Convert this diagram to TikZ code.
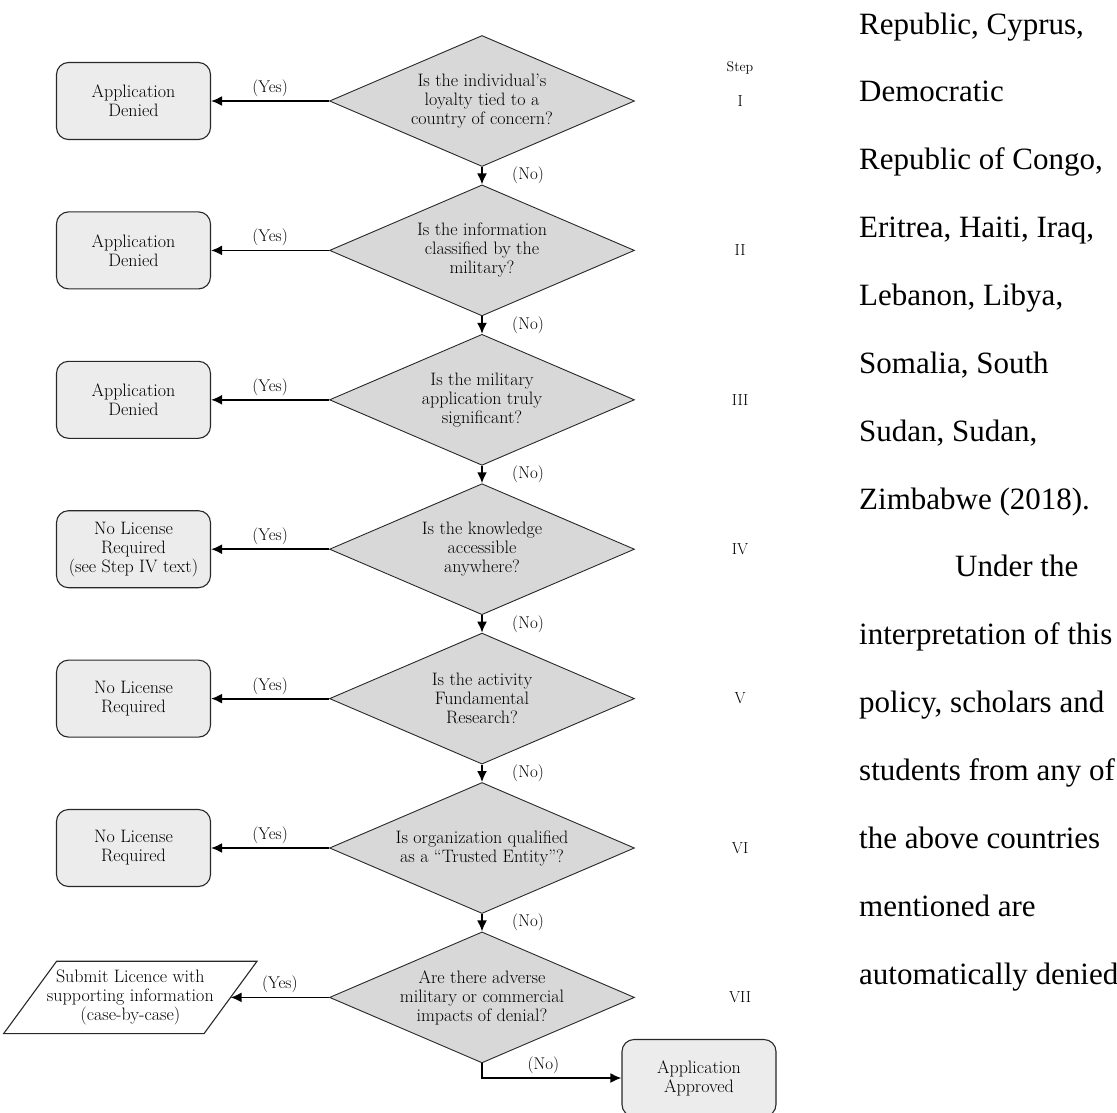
\documentclass[tikz,border=0pt]{standalone}
\usepackage{fontspec}
\usepackage{tikz}
\usetikzlibrary{arrows.meta,positioning,shapes.geometric}
\newfontfamily\bodyfont{Liberation Serif}
\definecolor{dgray}{RGB}{40,40,40}
\definecolor{lightbox}{RGB}{236,236,236}
\definecolor{lightdia}{RGB}{216,216,216}

\begin{document}
\begin{tikzpicture}[x=1pt,y=-1pt,
  font=\fontsize{18}{19}\selectfont,
  box/.style={rounded corners=12pt,draw=dgray,fill=lightbox,line width=1.1pt,minimum width=154pt,minimum height=77pt,align=center,inner sep=2pt},
  quest/.style={diamond,draw=dgray,fill=lightdia,line width=0.9pt,aspect=2.33,minimum width=305pt,minimum height=131pt,inner sep=0pt,align=center},
  io/.style={rectangle,minimum width=200pt,minimum height=72pt,align=center,inner sep=0pt},
  arr/.style={-{Latex[length=11pt,width=10pt]},line width=1.8pt,black},
  lbl/.style={font=\fontsize{17}{18}\selectfont},
  steplbl/.style={text width=30pt,align=center,inner sep=0pt,font=\fontsize{16}{17}\selectfont},
  ]
  \useasboundingbox (0,0) rectangle (1117,1112);
  % questions
  \node[quest] (q1) at (482,101) {Is the individual's\\loyalty tied to a\\country of concern?};
  \node[quest,below=17.5pt of q1] (q2) {Is the information\\classified by the\\military?};
  \node[quest,below=17.5pt of q2] (q3) {Is the military\\application truly\\significant?};
  \node[quest,below=17.5pt of q3] (q4) {Is the knowledge\\accessible\\anywhere?};
  \node[quest,below=17.5pt of q4] (q5) {Is the activity\\Fundamental\\Research?};
  \node[quest,below=17.5pt of q5] (q6) {Is organization qualified\\as a ``Trusted Entity''?};
  \node[quest,below=17.5pt of q6] (q7) {Are there adverse\\military or commercial\\impacts of denial?};
  % outcomes
  \node[box,left=118pt of q1] (deny1) {Application\\Denied};
  \node[box,left=118pt of q2] (deny2) {Application\\Denied};
  \node[box,left=118pt of q3] (deny3) {Application\\Denied};
  \node[box,left=118pt of q4] (free4) {No License\\Required\\(see Step IV text)};
  \node[box,left=118pt of q5] (free5) {No License\\Required};
  \node[box,left=118pt of q6] (free6) {No License\\Required};
  \node[io,left=98.5pt of q7] (submit) {Submit Licence with\\supporting information\\(case-by-case)};
  \draw[dgray,line width=1.1pt] ([xshift=-26.5pt]submit.south west) -- ([xshift=26.5pt]submit.north west)
    -- ([xshift=26.5pt]submit.north east) -- ([xshift=-26.5pt]submit.south east) -- cycle;
  \node[box] (ok) at (699,1078) {Application\\Approved};
  % step column
  \node[steplbl,font=\fontsize{14}{15}\selectfont] (steph) at (740,68) {Step};
  \node[steplbl,right=90pt of q1] (s1) {I};
  \node[steplbl,right=90pt of q2] (s2) {II};
  \node[steplbl,right=90pt of q3] (s3) {III};
  \node[steplbl,right=90pt of q4] (s4) {IV};
  \node[steplbl,right=90pt of q5] (s5) {V};
  \node[steplbl,right=90pt of q6] (s6) {VI};
  \node[steplbl,right=90pt of q7] (s7) {VII};
  % yes branches
  \draw[arr] (q1) -- node[lbl,above] {(Yes)} (deny1);
  \draw[arr] (q2) -- node[lbl,above] {(Yes)} (deny2);
  \draw[arr] (q3) -- node[lbl,above] {(Yes)} (deny3);
  \draw[arr] (q4) -- node[lbl,above] {(Yes)} (free4);
  \draw[arr] (q5) -- node[lbl,above] {(Yes)} (free5);
  \draw[arr] (q6) -- node[lbl,above] {(Yes)} (free6);
  \draw[arr] (q7) -- node[lbl,above] {(Yes)} (submit);
  % no branches
  \draw[arr] (q1) -- node[lbl,right=26pt] {(No)} (q2);
  \draw[arr] (q2) -- node[lbl,right=26pt] {(No)} (q3);
  \draw[arr] (q3) -- node[lbl,right=26pt] {(No)} (q4);
  \draw[arr] (q4) -- node[lbl,right=26pt] {(No)} (q5);
  \draw[arr] (q5) -- node[lbl,right=26pt] {(No)} (q6);
  \draw[arr] (q6) -- node[lbl,right=26pt] {(No)} (q7);
  \draw[arr] (q7.south) |- node[lbl,above,pos=0.72] {(No)} (ok.west);
  % running text beside the figure
  \foreach \txt [count=\i] in {{Republic, Cyprus,},Democratic,{Republic of Congo,},{Eritrea, Haiti, Iraq,},{Lebanon, Libya,},{Somalia, South},{Sudan, Sudan,},Zimbabwe (2018).,\hspace*{96pt}Under the,interpretation of this,{policy, scholars and},students from any of,the above countries,mentioned are,automatically denied}
    \node[anchor=base west,inner sep=0pt,font=\bodyfont\fontsize{31}{34}\selectfont] (ln\i) at (859,{34+67.86*(\i-1)}) {\txt};
\end{tikzpicture}
\end{document}
